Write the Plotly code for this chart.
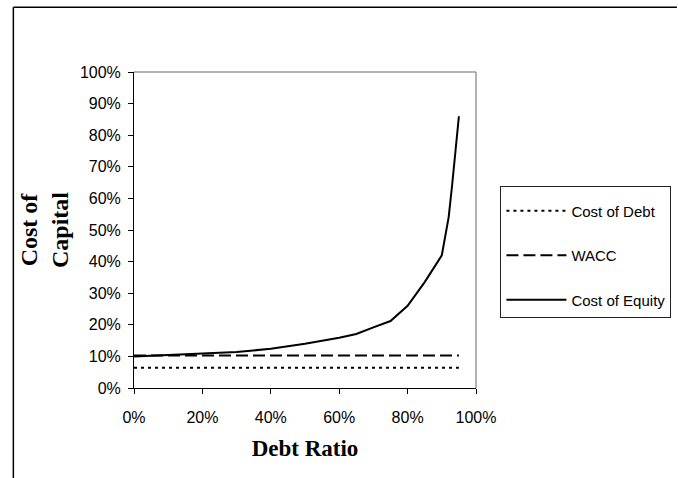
import plotly.graph_objects as go

# Debt ratio (share of capital financed by debt)
debt_ratio = [0.00, 0.10, 0.20, 0.30, 0.40, 0.50, 0.60, 0.65, 0.70, 0.75,
              0.80, 0.85, 0.90, 0.92, 0.93, 0.94, 0.95]
cost_of_debt = [0.064] * len(debt_ratio)
wacc = [0.103] * len(debt_ratio)
cost_of_equity = [0.100, 0.104, 0.108, 0.114, 0.124, 0.140, 0.159, 0.171, 0.192, 0.212,
                  0.260, 0.335, 0.420, 0.540, 0.640, 0.750, 0.860]

x_ticks = [0.0, 0.2, 0.4, 0.6, 0.8, 1.0]
y_ticks = [0.0, 0.1, 0.2, 0.3, 0.4, 0.5, 0.6, 0.7, 0.8, 0.9, 1.0]

W, H = 678, 478
ML, MR, MT, MB = 133.5, 201.5, 72.3, 90
PW, PH = W - ML - MR, H - MT - MB

def px(x):
    return (x - ML) / PW

def py(y):
    return (H - MB - y) / PH

SANS = "Arial, Liberation Sans, sans-serif"
SERIF = "Times New Roman, Liberation Serif, serif"

fig = go.Figure()
fig.add_trace(go.Scatter(x=debt_ratio, y=cost_of_debt, mode="lines", name="Cost of Debt",
                         legendgroup="d",
                         line=dict(color="black", width=2, dash="3px,4px")))
fig.add_trace(go.Scatter(x=debt_ratio, y=wacc, mode="lines", name="WACC",
                         legendgroup="w",
                         line=dict(color="black", width=2, dash="12px,5px")))
fig.add_trace(go.Scatter(x=debt_ratio, y=cost_of_equity, mode="lines", name="Cost of Equity",
                         legendgroup="e",
                         line=dict(color="black", width=2)))

axis_common = dict(showgrid=False, zeroline=False, showline=True, linecolor="black",
                   linewidth=1, ticks="outside", ticklen=5, tickcolor="black",
                   tickformat=".0%", tickfont=dict(family=SANS, size=16, color="black"))

fig.update_layout(
    width=W, height=H,
    margin=dict(l=ML, r=MR, t=MT, b=MB, autoexpand=False),
    paper_bgcolor="white", plot_bgcolor="white",
    xaxis=dict(range=[0, 1], tickvals=x_ticks, ticklabelstandoff=10,
               title=dict(text="<b>Debt Ratio</b>", font=dict(family=SERIF, size=23, color="black"),
                          standoff=14),
               **axis_common),
    yaxis=dict(range=[0, 1], tickvals=y_ticks, ticklabelstandoff=4,
               title=dict(text="<b>Cost of<br>Capital</b>", font=dict(family=SERIF, size=24, color="black"),
                          standoff=4),
               **axis_common),
    legend=dict(x=px(501), y=py(186), xanchor="left", yanchor="top",
                bordercolor="#222222", borderwidth=1, bgcolor="white",
                font=dict(family=SANS, size=15, color="black"),
                title=dict(text=" ", font=dict(size=6)),
                itemwidth=60, tracegroupgap=22, traceorder="grouped"),
    shapes=[
        # plot-area frame on the top and right
        dict(type="line", xref="paper", yref="paper", x0=0, x1=1, y0=1, y1=1,
             line=dict(color="#999999", width=1.5)),
        dict(type="line", xref="paper", yref="paper", x0=1, x1=1, y0=0, y1=1,
             line=dict(color="#999999", width=1.5)),
        # outer chart border
        dict(type="line", xref="paper", yref="paper", x0=px(12.5), x1=px(W), y0=py(7.5), y1=py(7.5),
             line=dict(color="black", width=1.5)),
        dict(type="line", xref="paper", yref="paper", x0=px(12.5), x1=px(12.5), y0=py(7.5), y1=py(H),
             line=dict(color="black", width=1.5)),
    ],
)

fig.write_html("out.html")
